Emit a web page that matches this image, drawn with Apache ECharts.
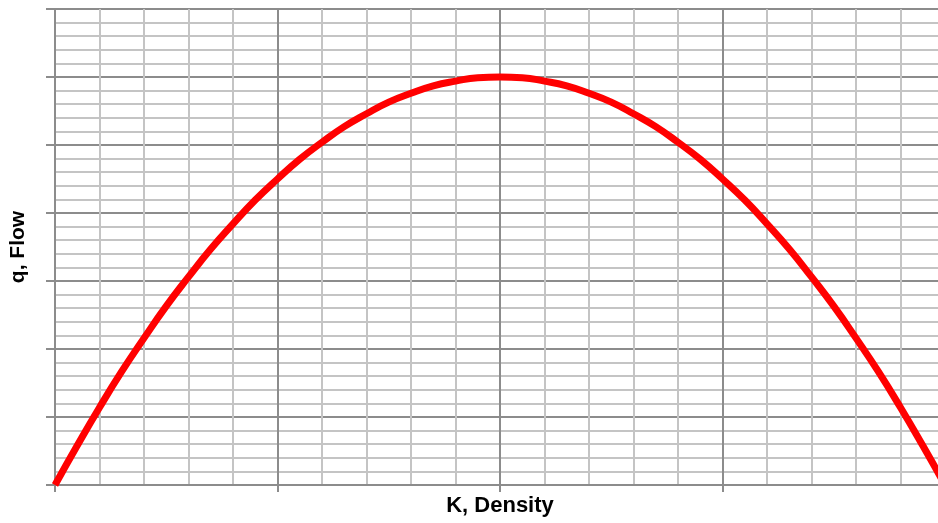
<!DOCTYPE html>
<html lang="en">
<head>
    <meta charset="UTF-8">
    <title>Flow - Density</title>
    <script src="https://cdn.jsdelivr.net/npm/echarts@6/dist/echarts.min.js"></script>
    <style>
html, body{
    margin:0;
    padding:0;
    background:#fff;
    overflow:hidden;
}
#chart{
    /* the plot runs a little past the right edge of the window */
    width:945px;
    height:523px;
}
    </style>
</head>
<body>
<div id="chart"></div>
<script type="text/javascript">
    // values (density k, flow q)
    var densityK = [0, 0.1, 0.2, 0.3, 0.4, 0.5, 0.6, 0.7, 0.8, 0.9, 1.0, 1.1, 1.2, 1.3, 1.4, 1.5, 1.6, 1.7, 1.8, 1.9, 2.0,
        2.1, 2.2, 2.3, 2.4, 2.5, 2.6, 2.7, 2.8, 2.9, 3.0, 3.1, 3.2, 3.3, 3.4, 3.5, 3.6, 3.7, 3.8, 3.9, 4.0];
    var flowQ = [0, 0.58, 1.14, 1.67, 2.16, 2.63, 3.06, 3.47, 3.84, 4.19, 4.5, 4.79, 5.04, 5.27, 5.46, 5.63, 5.76, 5.87, 5.94, 5.99, 6.0,
        5.99, 5.94, 5.87, 5.76, 5.63, 5.46, 5.27, 5.04, 4.79, 4.5, 4.19, 3.84, 3.47, 3.06, 2.63, 2.16, 1.67, 1.14, 0.58, 0];

    var majorColor = '#8c8c8c';
    var minorColor = '#c4c4c4';

    var points = densityK.map(function (k, i) { return [k, flowQ[i]]; });

    var myChart = echarts.init(document.getElementById('chart'));
    myChart.setOption({
        animation: false,
        grid: {
            left: 55,
            right: 0,
            top: 9,
            bottom: 38
        },
        xAxis: {
            type: 'value',
            min: 0,
            max: 4,
            interval: 1,
            name: 'K, Density',
            nameLocation: 'middle',
            nameGap: 10,
            nameTextStyle: {
                fontFamily: 'Liberation Sans',
                fontWeight: 'bold',
                fontSize: 22,
                color: '#000'
            },
            axisLine: {
                show: true,
                lineStyle: {color: majorColor, width: 2}
            },
            axisTick: {
                show: true,
                length: 7,
                lineStyle: {color: majorColor, width: 2}
            },
            axisLabel: {show: false},
            splitLine: {
                show: true,
                lineStyle: {color: majorColor, width: 2}
            },
            minorTick: {show: false, splitNumber: 5},
            minorSplitLine: {
                show: true,
                lineStyle: {color: minorColor, width: 2}
            }
        },
        yAxis: {
            type: 'value',
            min: 0,
            max: 7,
            interval: 1,
            name: 'q, Flow',
            nameLocation: 'middle',
            nameGap: 26,
            nameTextStyle: {
                fontFamily: 'Liberation Sans',
                fontWeight: 'bold',
                fontSize: 21,
                color: '#000'
            },
            axisLine: {
                show: true,
                lineStyle: {color: majorColor, width: 2}
            },
            axisTick: {
                show: true,
                length: 9,
                lineStyle: {color: majorColor, width: 2}
            },
            axisLabel: {show: false},
            splitLine: {
                show: true,
                lineStyle: {color: majorColor, width: 2}
            },
            minorTick: {show: false, splitNumber: 5},
            minorSplitLine: {
                show: true,
                lineStyle: {color: minorColor, width: 2}
            }
        },
        series: [{
            type: 'line',
            data: points,
            smooth: true,
            showSymbol: false,
            clip: false,
            lineStyle: {
                color: '#ff0000',
                width: 7
            }
        }]
    });
</script>
</body>
</html>
